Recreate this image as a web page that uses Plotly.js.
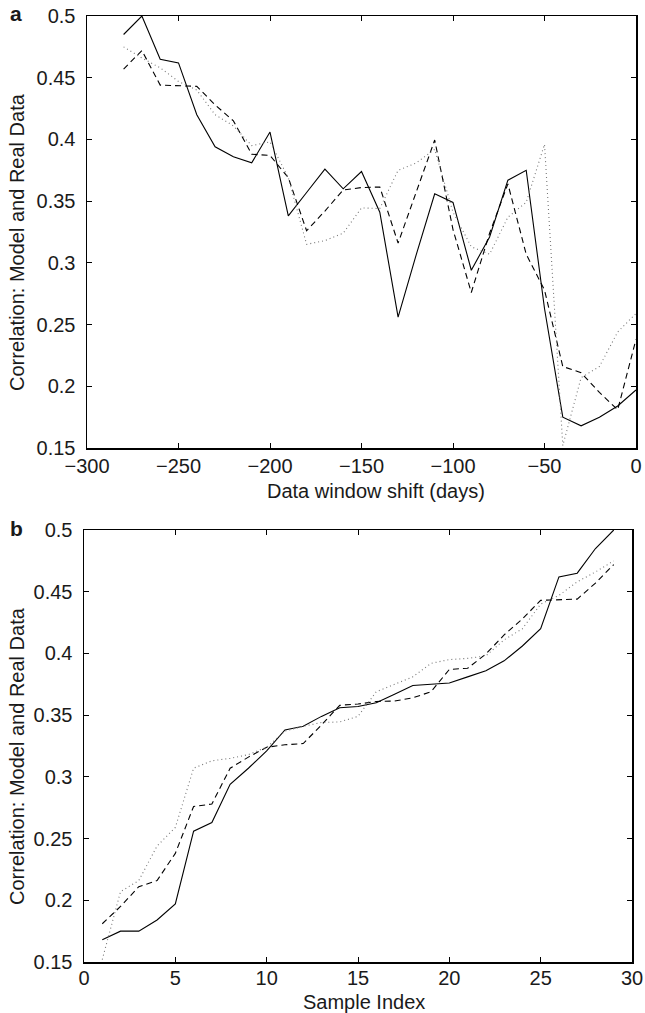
<!DOCTYPE html>
<html>
<head>
<meta charset="utf-8">
<script src="https://cdn.plot.ly/plotly-3.0.1.min.js"></script>
<style>html,body{margin:0;padding:0;background:#fff;}#chart{width:645px;height:1013px;}</style>
</head>
<body>
<div id="chart"></div>
<script>
// Panel a: data window shift (days)
const shiftDays = [-280,-270,-260,-250,-240,-230,-220,-210,-200,-190,-180,-170,-160,-150,-140,-130,-120,-110,-100,-90,-80,-70,-60,-50,-40,-30,-20,-10,0];
const solidA  = [0.485,0.5,0.465,0.462,0.42,0.394,0.386,0.381,0.406,0.338,0.357,0.376,0.36,0.374,0.341,0.256,0.307,0.356,0.349,0.294,0.321,0.367,0.375,0.263,0.175,0.168,0.175,0.184,0.197];
const dashedA = [0.457,0.472,0.444,0.4435,0.443,0.428,0.415,0.388,0.387,0.369,0.326,0.342,0.359,0.361,0.3615,0.316,0.358,0.3995,0.327,0.276,0.324,0.364,0.307,0.278,0.216,0.211,0.195,0.181,0.238];
const dottedA = [0.475,0.466,0.458,0.447,0.44,0.42,0.411,0.395,0.398,0.369,0.315,0.318,0.324,0.3445,0.344,0.375,0.381,0.392,0.341,0.313,0.307,0.337,0.349,0.396,0.152,0.207,0.216,0.244,0.259];

// Panel b: sample index
const sampleIndex = [1,2,3,4,5,6,7,8,9,10,11,12,13,14,15,16,17,18,19,20,21,22,23,24,25,26,27,28,29];
const solidB  = [0.168,0.175,0.175,0.184,0.197,0.256,0.263,0.294,0.307,0.321,0.338,0.341,0.349,0.356,0.357,0.36,0.367,0.374,0.375,0.376,0.381,0.386,0.394,0.406,0.42,0.462,0.465,0.485,0.5];
const dashedB = [0.181,0.195,0.211,0.216,0.238,0.276,0.278,0.307,0.316,0.324,0.326,0.327,0.342,0.358,0.359,0.361,0.3615,0.364,0.369,0.387,0.388,0.3995,0.415,0.428,0.443,0.4435,0.444,0.457,0.472];
const dottedB = [0.152,0.207,0.216,0.244,0.259,0.307,0.313,0.315,0.318,0.324,0.337,0.341,0.344,0.3445,0.349,0.369,0.375,0.381,0.392,0.395,0.396,0.398,0.411,0.42,0.44,0.447,0.458,0.466,0.475];

const yTickVals = [0.15,0.2,0.25,0.3,0.35,0.4,0.45,0.5];
const yTickText = ['0.15','0.2','0.25','0.3','0.35','0.4','0.45','0.5'];
const xTickValsA = [-300,-250,-200,-150,-100,-50,0];
const xTickTextA = ['\u2212300','\u2212250','\u2212200','\u2212150','\u2212100','\u221250','0'];
const xTickValsB = [0,5,10,15,20,25,30];

const FONT = 'Liberation Sans, Arial, Helvetica, sans-serif';
const TXT = '#1a1a1a';
const solidStyle  = {color:'#000', width:1.1, dash:'solid'};
const dashedStyle = {color:'#000', width:1.1, dash:'6px,4px'};
const dottedStyle = {color:'#777', width:1.1, dash:'1px,3px'};

const traces = [
  {x:shiftDays, y:solidA,  mode:'lines', line:solidStyle,  xaxis:'x',  yaxis:'y'},
  {x:shiftDays, y:dashedA, mode:'lines', line:dashedStyle, xaxis:'x',  yaxis:'y'},
  {x:shiftDays, y:dottedA, mode:'lines', line:dottedStyle, xaxis:'x',  yaxis:'y'},
  {x:sampleIndex, y:solidB,  mode:'lines', line:solidStyle,  xaxis:'x2', yaxis:'y2'},
  {x:sampleIndex, y:dashedB, mode:'lines', line:dashedStyle, xaxis:'x2', yaxis:'y2'},
  {x:sampleIndex, y:dottedB, mode:'lines', line:dottedStyle, xaxis:'x2', yaxis:'y2'}
];

const axisCommon = {
  showgrid:false, zeroline:false, showline:true, linecolor:'#000', linewidth:1.5,
  mirror:'ticks', ticks:'inside', ticklen:5, tickwidth:1, tickcolor:'#000',
  tickfont:{family:FONT, size:20, color:TXT}, fixedrange:true
};

const layout = {
  width:645, height:1013,
  margin:{l:0,r:0,t:0,b:0},
  paper_bgcolor:'#fff', plot_bgcolor:'#fff',
  showlegend:false,
  font:{family:FONT, color:TXT},
  xaxis: Object.assign({}, axisCommon, {domain:[87/645, 636/645], range:[-300,0], tickvals:xTickValsA, ticktext:xTickTextA, anchor:'y', ticklabelstandoff:-1}),
  yaxis: Object.assign({}, axisCommon, {domain:[1-448/1013, 1-16/1013], range:[0.15,0.5], tickvals:yTickVals, ticktext:yTickText, anchor:'x', ticklabelstandoff:6}),
  xaxis2: Object.assign({}, axisCommon, {domain:[84/645, 632/645], range:[0,30], tickvals:xTickValsB, anchor:'y2', ticklabelstandoff:-3}),
  yaxis2: Object.assign({}, axisCommon, {domain:[1-962/1013, 1-530/1013], range:[0.15,0.5], tickvals:yTickVals, ticktext:yTickText, anchor:'x2', ticklabelstandoff:6}),
  annotations:[
    {text:'<b>a</b>', xref:'paper', yref:'paper', x:16/645, y:1-14/1013, xanchor:'center', yanchor:'middle', showarrow:false, font:{family:FONT, size:21, color:TXT}},
    {text:'<b>b</b>', xref:'paper', yref:'paper', x:16/645, y:1-528/1013, xanchor:'center', yanchor:'middle', showarrow:false, font:{family:FONT, size:21, color:TXT}},
    {text:'Correlation: Model and Real Data', xref:'paper', yref:'paper', x:17/645, y:1-242/1013, textangle:-90, xanchor:'center', yanchor:'middle', showarrow:false, font:{family:FONT, size:20, color:TXT}},
    {text:'Correlation: Model and Real Data', xref:'paper', yref:'paper', x:17/645, y:1-756/1013, textangle:-90, xanchor:'center', yanchor:'middle', showarrow:false, font:{family:FONT, size:20, color:TXT}},
    {text:'Data window shift (days)', xref:'paper', yref:'paper', x:376/645, y:1-491/1013, xanchor:'center', yanchor:'middle', showarrow:false, font:{family:FONT, size:20, color:TXT}},
    {text:'Sample Index', xref:'paper', yref:'paper', x:364/645, y:1-1002/1013, xanchor:'center', yanchor:'middle', showarrow:false, font:{family:FONT, size:20, color:TXT}}
  ]
};

Plotly.newPlot('chart', traces, layout, {staticPlot:true, displayModeBar:false});
</script>
</body>
</html>
